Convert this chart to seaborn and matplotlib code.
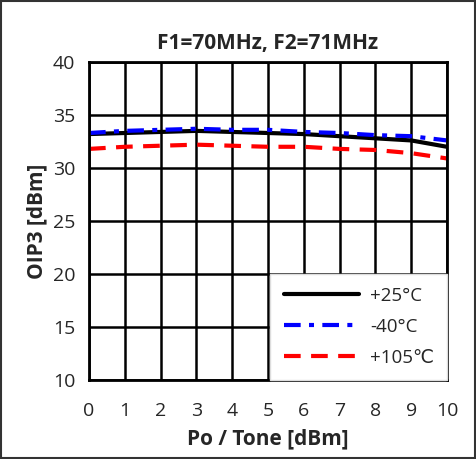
import numpy as np
import pandas as pd
import matplotlib
matplotlib.use('Agg')
import matplotlib.pyplot as plt
import seaborn as sns
from matplotlib.patches import Rectangle

sns.set_style('white')
plt.rcParams['font.family'] = ['Open Sans', 'DejaVu Sans']

# data
po_tone = [0, 1, 2, 3, 4, 5, 6, 7, 8, 9, 10]
oip3_25 = [33.2, 33.3, 33.4, 33.5, 33.4, 33.3, 33.2, 33.0, 32.8, 32.6, 32.0]
oip3_m40 = [33.3, 33.5, 33.6, 33.7, 33.6, 33.6, 33.4, 33.3, 33.1, 33.0, 32.6]
oip3_105 = [31.8, 32.0, 32.1, 32.2, 32.1, 32.0, 32.0, 31.8, 31.7, 31.4, 30.9]
labels = ['+25°C', '-40°C', '+105℃']

fig = plt.figure(figsize=(4.76, 4.59), dpi=100)
ax = fig.add_axes([0.187, 0.172, 0.752, 0.693])

# outer frame
fig.patches.append(Rectangle((0.002, 0.002), 0.996, 0.996, transform=fig.transFigure,
                             fill=False, edgecolor='#333333', linewidth=1.5))

sns.lineplot(x=po_tone, y=oip3_25, ax=ax, color='black', linewidth=3, label=labels[0])
sns.lineplot(x=po_tone, y=oip3_m40, ax=ax, color='blue', linewidth=3, label=labels[1],
             dashes=False, linestyle=(0, (4, 2, 1.2, 2)))
sns.lineplot(x=po_tone, y=oip3_105, ax=ax, color='red', linewidth=3, label=labels[2],
             linestyle=(0, (4, 2.5)))

ax.set_xlim(0, 10)
ax.set_ylim(10, 40)
ax.set_xticks(range(0, 11))
ax.set_yticks(range(10, 41, 5))
ax.grid(True, color='black', linewidth=1.8)
ax.set_axisbelow(True)
for s in ax.spines.values():
    s.set_color('black')
    s.set_linewidth(2)
ax.tick_params(axis='both', labelsize=14, length=5, width=1.5, direction='in')
ax.tick_params(axis='x', pad=16)
ax.tick_params(axis='y', pad=10)

ax.set_title('F1=70MHz, F2=71MHz', fontsize=15, fontweight='bold', pad=9)
ax.set_xlabel('Po / Tone [dBm]', fontsize=15, fontweight='bold', labelpad=6)
ax.set_ylabel('OIP3 [dBm]', fontsize=15, fontweight='bold', labelpad=4)

leg = ax.legend(loc='lower right', fontsize=13.5, frameon=True, fancybox=False,
                borderaxespad=0, handlelength=4.0, labelspacing=0.7,
                borderpad=0.7, handletextpad=0.6)
leg.get_frame().set_edgecolor('#dddddd')
leg.get_frame().set_linewidth(1)
leg.get_frame().set_alpha(1)

fig.savefig('out.png', dpi=100)
